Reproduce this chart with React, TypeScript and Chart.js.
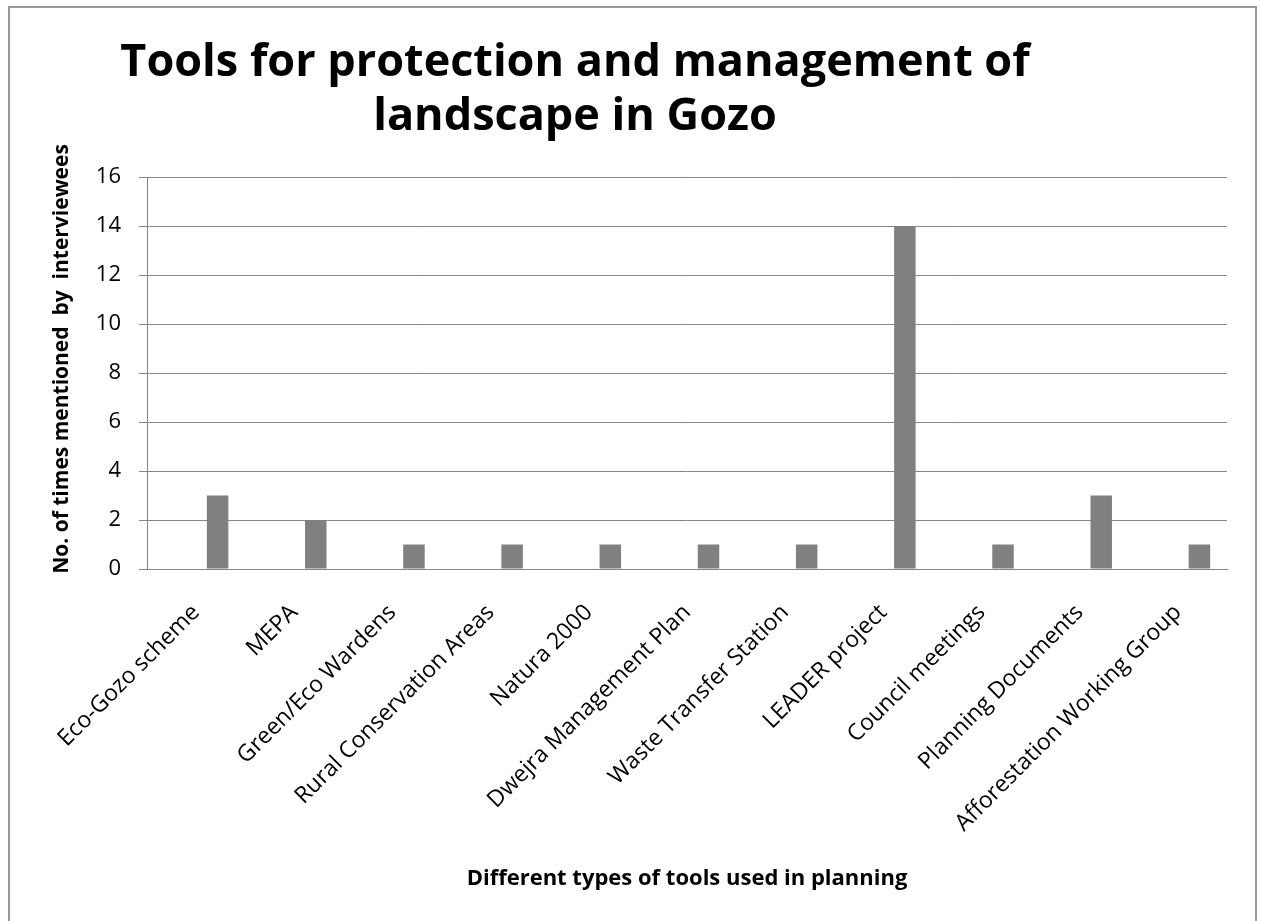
import React, { useEffect, useRef } from "react";
import { Chart, registerables } from "chart.js";

Chart.register(...registerables);

const categories: string[] = [
  "Eco-Gozo scheme",
  "MEPA",
  "Green/Eco Wardens",
  "Rural Conservation Areas",
  "Natura 2000",
  "Dwejra Management Plan",
  "Waste Transfer Station",
  "LEADER project",
  "Council meetings",
  "Planning Documents",
  "Afforestation Working Group",
];

// Excel-style clustered layout: two empty series precede the plotted one
const emptySeriesA: (number | null)[] = [null, null, null, null, null, null, null, null, null, null, null];
const emptySeriesB: (number | null)[] = [null, null, null, null, null, null, null, null, null, null, null];
const mentions: number[] = [3, 2, 1, 1, 1, 1, 1, 14, 1, 3, 1];

const yMin = 0;
const yMax = 16;
const yStep = 2;

const titleLines: string[] = ["Tools for protection and management of", "landscape in Gozo"];
const yAxisTitle = "No. of times mentioned  by  interviewees";
const xAxisTitle = "Different types of tools used in planning";

const FONT = '"Open Sans", "Noto Sans", sans-serif';
const GRID = "#868686";

const titlePlugin = {
  id: "offsetTitles",
  afterDraw(chart: any) {
    const ctx = chart.ctx as CanvasRenderingContext2D;
    ctx.save();
    ctx.font = `bold 45px ${FONT}`;
    ctx.fillStyle = "#000000";
    ctx.textAlign = "center";
    ctx.textBaseline = "alphabetic";
    titleLines.forEach((line, i) => {
      ctx.fillText(line, 565, 68 + i * 54);
    });
    ctx.restore();

    // y-axis title (Excel centres it slightly above the plot centre)
    ctx.save();
    ctx.font = `bold 21px ${FONT}`;
    ctx.fillStyle = "#000000";
    ctx.textAlign = "center";
    ctx.textBaseline = "middle";
    ctx.translate(52, 351);
    ctx.rotate(-Math.PI / 2);
    ctx.fillText(yAxisTitle, 0, 0);
    ctx.restore();
  },
};

export default function App() {
  const canvasRef = useRef<HTMLCanvasElement | null>(null);

  useEffect(() => {
    if (!canvasRef.current) return;
    const chart = new Chart(canvasRef.current, {
      type: "bar",
      data: {
        labels: categories,
        datasets: [
          { label: "Series A", data: emptySeriesA as any, backgroundColor: "#808080" },
          { label: "Series B", data: emptySeriesB as any, backgroundColor: "#808080" },
          { label: "Mentions", data: mentions, backgroundColor: "#808080", borderWidth: 0 },
        ],
      },
      options: {
        responsive: false,
        animation: false,
        devicePixelRatio: 1,
        datasets: {
          bar: { categoryPercentage: 0.657, barPercentage: 1 },
        },
        layout: { padding: { top: 169, right: 28, left: 0, bottom: 0 } },
        plugins: {
          legend: { display: false },
          tooltip: { enabled: false },
          title: { display: false },
        },
        scales: {
          x: {
            grid: { display: false, drawTicks: false, tickLength: 0 },
            border: { display: true, color: GRID, width: 1 },
            ticks: {
              autoSkip: false,
              minRotation: 45,
              maxRotation: 45,
              padding: 30,
              color: "#000000",
              font: { family: FONT, size: 23 },
            },
            title: {
              display: true,
              text: xAxisTitle,
              color: "#000000",
              font: { family: FONT, size: 22, weight: "bold" },
              padding: { top: 0, bottom: 29 },
            },
            afterFit: (scale: any) => {
              scale.height = 352;
            },
          },
          y: {
            min: yMin,
            max: yMax,
            ticks: {
              stepSize: yStep,
              padding: 18,
              color: "#000000",
              font: { family: FONT, size: 22 },
            },
            grid: { color: GRID, lineWidth: 1, tickLength: 8, drawTicks: true },
            border: { display: true, color: GRID, width: 1 },
            title: { display: false },
            afterFit: (scale: any) => {
              scale.width = 137;
            },
          },
        },
      },
      plugins: [titlePlugin],
    });
    return () => chart.destroy();
  }, []);

  return (
    <div
      style={{
        position: "fixed",
        left: 8,
        top: 6,
        width: 1249,
        height: 930,
        border: "2px solid #9a9a9a",
        boxSizing: "border-box",
        background: "#ffffff",
      }}
    >
      <canvas ref={canvasRef} width={1245} height={913} style={{ display: "block" }} />
    </div>
  );
}
